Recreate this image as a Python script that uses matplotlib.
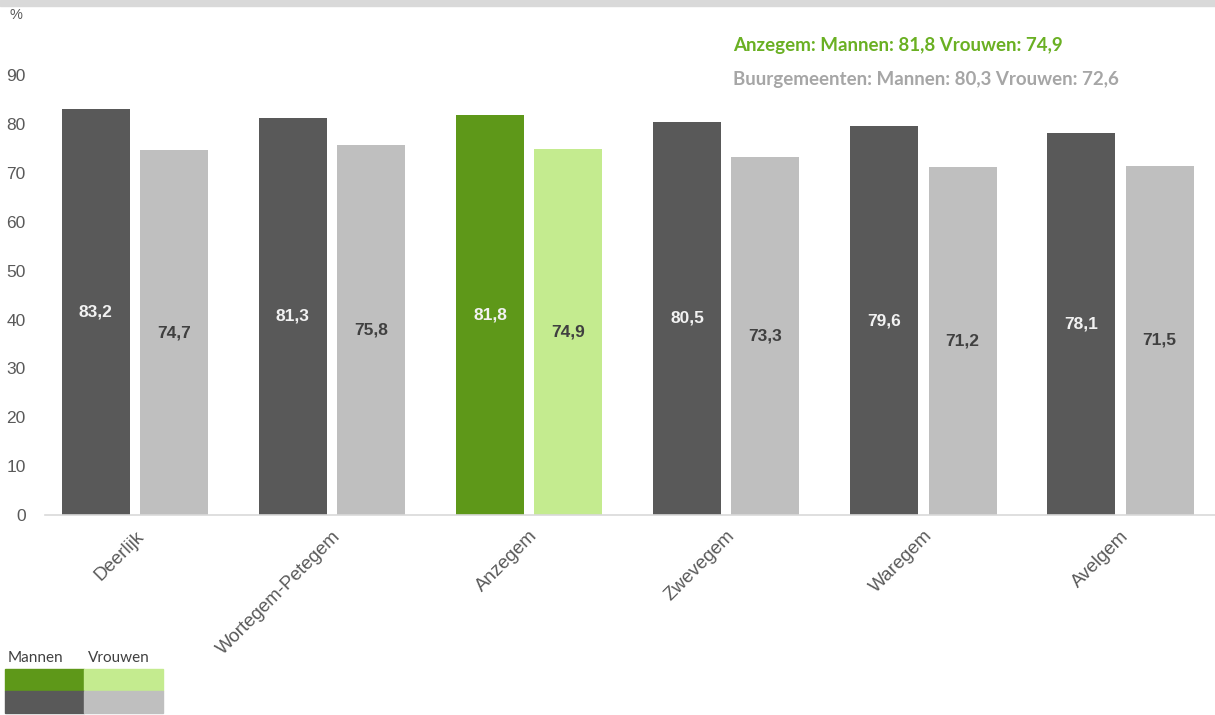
"""Levensverwachting per gemeente: Mannen vs Vrouwen (Anzegem en buurgemeenten)."""

import matplotlib.pyplot as plt
import numpy as np
from matplotlib.patches import Rectangle

gemeenten = ["Deerlijk", "Wortegem-Petegem", "Anzegem", "Zwevegem", "Waregem", "Avelgem"]
mannen = [83.2, 81.3, 81.8, 80.5, 79.6, 78.1]
vrouwen = [74.7, 75.8, 74.9, 73.3, 71.2, 71.5]
y_ticks = [0, 10, 20, 30, 40, 50, 60, 70, 80, 90]
highlight = "Anzegem"

DARK = "#595959"
LIGHT = "#bfbfbf"
GREEN = "#5e9819"
LIGHT_GREEN = "#c4eb8f"
TEXT = "#595959"

W, H = 1215, 715
fig = plt.figure(figsize=(W / 100, H / 100), dpi=100, facecolor="white")
plt.rcParams["font.family"] = ["Liberation Sans", "DejaVu Sans"]

# axes placed in pixel terms: x from 45 to 1215, y=0 at 515
ax_left, ax_right = 45, 1215
ax_bottom, ax_top = 515, 515 - 100 * 48.85 / 10
ax = fig.add_axes([ax_left / W, 1 - ax_bottom / H,
                   (ax_right - ax_left) / W, (ax_bottom - ax_top) / H])

x = np.arange(len(gemeenten))
bw = 0.345
off = 0.199
c_m = [GREEN if g == highlight else DARK for g in gemeenten]
c_v = [LIGHT_GREEN if g == highlight else LIGHT for g in gemeenten]
ax.bar(x - off, mannen, width=bw, color=c_m)
ax.bar(x + off, vrouwen, width=bw, color=c_v)

for xi, m, v in zip(x, mannen, vrouwen):
    ax.text(xi - off, m / 2, f"{m:.1f}".replace(".", ","), ha="center", va="center",
            fontsize=12.5, fontweight="bold", color="#f2f2f2")
    ax.text(xi + off, v / 2, f"{v:.1f}".replace(".", ","), ha="center", va="center",
            fontsize=12.5, fontweight="bold", color="#404040")

ax.set_xlim(-0.457, 5.48)
ax.set_ylim(0, 100)
ax.set_yticks(y_ticks)
ax.set_yticklabels([str(t) for t in y_ticks], fontsize=12.5, color=TEXT)
ax.set_xticks(x)
ax.set_xticklabels(gemeenten, rotation=45, ha="right", va="top",
                   rotation_mode="anchor", fontsize=13.5, color=TEXT)
ax.tick_params(axis="y", length=0, pad=14)
ax.tick_params(axis="x", length=0, pad=9)
for s in ["top", "right", "left"]:
    ax.spines[s].set_visible(False)
ax.spines["bottom"].set_color("#d9d9d9")
ax.spines["bottom"].set_linewidth(1.2)

# unit label
fig.text(10 / W, 1 - 15 / H, "%", fontsize=10.5, color=TEXT, va="center")

# top band (window chrome)
fig.add_artist(Rectangle((0, 1 - 6 / H), 1, 6 / H, transform=fig.transFigure,
                         color="#d9d9d9", zorder=0))

# annotations
fig.text(733 / W, 1 - 46 / H, "Anzegem: Mannen: 81,8 Vrouwen: 74,9",
         fontsize=13.5, fontweight="bold", color="#6ab023", va="center", family="Lato")
fig.text(733 / W, 1 - 79 / H, "Buurgemeenten: Mannen: 80,3 Vrouwen: 72,6",
         fontsize=13.5, fontweight="bold", color="#a6a6a6", va="center", family="Lato")

# legend table at bottom left
fig.text(8 / W, 1 - 658 / H, "Mannen", fontsize=11, color="#404040", va="center",
         family="Lato")
fig.text(88 / W, 1 - 658 / H, "Vrouwen", fontsize=11, color="#404040", va="center",
         family="Lato")
cells = [(5, 669, GREEN), (84, 669, LIGHT_GREEN), (5, 691, DARK), (84, 691, LIGHT)]
for px, py, col in cells:
    fig.add_artist(Rectangle((px / W, 1 - (py + 22) / H), 79 / W, 22 / H,
                             transform=fig.transFigure, color=col))

fig.savefig("out.png", dpi=100, facecolor="white")
